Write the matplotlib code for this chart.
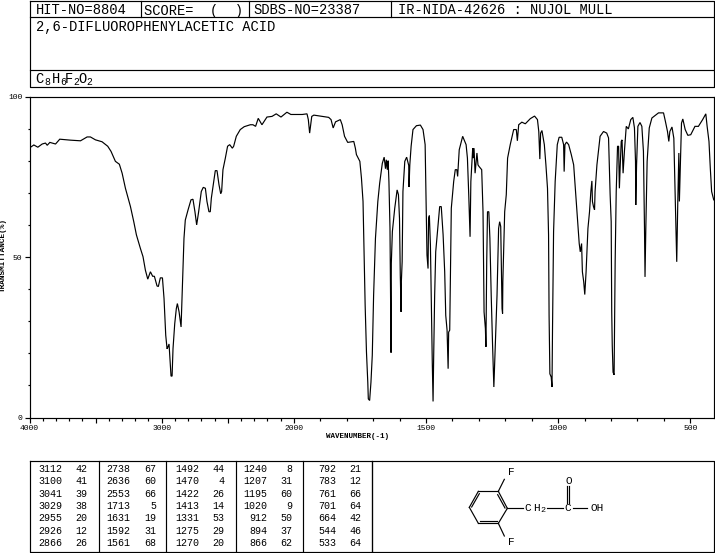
# IR spectrum page: 2,6-difluorophenylacetic acid
import numpy as np
import matplotlib
matplotlib.use('Agg')
import matplotlib.pyplot as plt
from matplotlib.ticker import FixedLocator, FixedFormatter

# Spectrum trace, wavenumber (cm-1) and transmittance (%)
wavenumber = [
    4000, 3992, 3967, 3937, 3904, 3879, 3866, 3846, 3803, 3771, 3690, 3614, 3564, 3539, 3501, 3451, 3408,
    3383, 3350, 3320, 3299, 3274, 3236, 3211, 3191, 3161, 3141, 3123, 3105, 3085, 3068, 3055, 3035,
    3025, 3010, 2994, 2982, 2969, 2959, 2952, 2944, 2937, 2929, 2921, 2914, 2901, 2889, 2881, 2868,
    2853, 2846, 2838, 2831, 2821, 2800, 2778, 2763, 2748, 2735, 2720, 2700, 2685, 2669, 2657, 2642,
    2632, 2624, 2606, 2594, 2581, 2566, 2553, 2546, 2536, 2518, 2501, 2485, 2465, 2455, 2435, 2405,
    2375, 2329, 2309, 2289, 2269, 2241, 2203, 2165, 2133, 2097, 2052, 2022, 1968, 1950, 1945, 1940,
    1932, 1924, 1899, 1868, 1859, 1851, 1842, 1824, 1817, 1808, 1796, 1773, 1767, 1763, 1750, 1744,
    1738, 1734, 1730, 1725, 1720, 1718, 1713, 1708, 1703, 1698, 1691, 1682, 1675, 1665, 1658, 1653,
    1650, 1646, 1643, 1640, 1636, 1633, 1632, 1631, 1627, 1618, 1609, 1604, 1600, 1597, 1594, 1593,
    1590, 1587, 1580, 1573, 1565, 1564, 1561, 1556, 1549, 1536, 1521, 1511, 1503, 1500, 1496, 1492,
    1490, 1487, 1483, 1480, 1476, 1473, 1471, 1467, 1463, 1454, 1448, 1442, 1435, 1429, 1425, 1420,
    1416, 1414, 1410, 1404, 1395, 1389, 1383, 1380, 1374, 1361, 1348, 1343, 1338, 1333, 1330, 1323,
    1321, 1318, 1314, 1307, 1303, 1299, 1289, 1284, 1280, 1275, 1273, 1270, 1267, 1262, 1258, 1253,
    1248, 1243, 1239, 1231, 1225, 1221, 1217, 1212, 1210, 1209, 1202, 1196, 1191, 1181, 1168, 1158,
    1154, 1149, 1137, 1124, 1105, 1089, 1078, 1073, 1069, 1066, 1061, 1052, 1046, 1040, 1036, 1034,
    1031, 1026, 1023, 1021, 1017, 1011, 1003, 996, 986, 979, 977, 974, 968, 960, 950, 941,
    933, 926, 920, 916, 911, 908, 903, 899, 894, 887, 881, 876, 872, 870, 866, 862,
    860, 853, 841, 828, 816, 809, 803, 799, 797, 795, 792, 788, 784, 780, 775, 771,
    768, 765, 761, 758, 754, 749, 742, 734, 725, 717, 711, 707, 706, 703, 698, 690,
    683, 677, 673, 671, 668, 663, 655, 645, 620, 601, 594, 586, 581, 577, 569, 562,
    557, 551, 547, 543, 541, 537, 533, 528, 519, 509, 498, 482, 469, 453, 441, 436,
    429, 424, 419, 411,
]
transmittance = [
    84.0, 84.2, 84.9, 84.2, 85.2, 85.5, 84.8, 85.7, 85.2, 86.7, 86.4, 86.2, 87.4, 87.4, 86.5, 85.9, 84.5,
    82.9, 79.8, 78.9, 76.1, 71.4, 65.7, 61.0, 56.9, 52.7, 50.1, 45.9, 43.1, 45.4, 44.0, 44.0, 41.0,
    40.8, 43.5, 43.5, 37.1, 25.6, 21.4, 22.0, 22.9, 18.3, 12.9, 12.9, 21.4, 29.2, 33.9, 35.5, 32.9,
    28.2, 37.1, 48.0, 55.8, 61.5, 64.7, 67.8, 68.0, 64.1, 60.0, 64.1, 70.4, 71.7, 71.4, 67.3, 64.1,
    64.1, 68.3, 73.5, 76.9, 76.9, 72.5, 69.7, 70.4, 77.2, 80.8, 84.5, 85.0, 83.9, 84.5, 87.6, 89.7,
    90.6, 91.2, 91.2, 90.7, 93.2, 91.2, 93.6, 93.8, 94.6, 93.6, 95.1, 94.4, 94.4, 94.6, 92.8, 88.6,
    93.8, 94.2, 93.9, 93.5, 92.8, 90.2, 92.1, 92.8, 91.2, 87.6, 85.7, 86.0, 83.9, 81.9, 79.8, 74.6,
    67.3, 50.6, 35.0, 20.4, 11.0, 5.8, 5.3, 11.0, 19.4, 38.0, 55.8, 67.3, 73.0, 79.2, 81.1, 77.5,
    80.3, 77.2, 80.0, 73.5, 59.0, 28.7, 20.2, 48.0, 57.9, 65.2, 70.9, 69.4, 62.0, 44.3, 32.9, 42.3,
    48.5, 70.4, 79.8, 81.1, 78.5, 71.8, 78.7, 84.5, 89.7, 90.9, 91.1, 89.7, 85.0, 69.4, 50.6, 46.4,
    62.0, 62.9, 53.7, 38.0, 17.3, 5.0, 17.3, 38.0, 51.6, 60.0, 65.7, 65.7, 56.9, 45.4, 31.8, 27.2,
    15.2, 26.6, 27.2, 65.2, 73.5, 77.2, 77.2, 75.1, 83.4, 87.6, 85.0, 80.8, 69.4, 56.3, 73.5, 83.9,
    80.8, 83.9, 76.1, 82.4, 78.7, 78.2, 77.2, 64.1, 32.9, 27.7, 22.0, 48.5, 64.1, 64.1, 55.8, 38.1,
    23.0, 9.5, 19.3, 38.1, 58.9, 61.0, 59.5, 33.9, 32.4, 42.3, 64.1, 69.4, 80.8, 85.0, 89.7, 89.7,
    86.2, 91.2, 92.0, 91.5, 93.1, 93.9, 92.8, 89.1, 80.5, 88.6, 89.4, 85.0, 78.7, 71.4, 56.9, 31.8,
    13.6, 12.6, 9.5, 27.7, 57.9, 73.5, 85.0, 87.3, 87.3, 85.0, 76.6, 85.0, 85.8, 85.0, 81.9, 78.7,
    69.4, 61.0, 54.2, 51.6, 54.2, 45.4, 42.3, 38.3, 45.4, 58.9, 64.1, 70.4, 73.7, 67.3, 65.7, 64.7,
    70.4, 78.7, 87.6, 89.1, 88.6, 87.1, 69.4, 61.0, 32.9, 22.5, 14.1, 13.3, 48.5, 70.4, 84.5, 84.5,
    71.4, 78.2, 86.0, 86.5, 76.1, 82.9, 90.7, 89.9, 92.8, 93.5, 90.2, 79.8, 66.2, 78.7, 90.7, 91.9,
    90.7, 82.9, 58.9, 43.8, 58.9, 79.8, 90.2, 93.3, 94.9, 94.9, 92.3, 89.1, 86.0, 89.1, 90.5, 87.0,
    69.4, 48.5, 67.3, 82.4, 67.3, 79.8, 91.7, 93.0, 89.7, 87.9, 88.1, 90.7, 90.7, 92.8, 94.6, 90.7,
    86.0, 77.7, 70.4, 67.8,
]

# Axis ticks
x_major = [4000, 3500, 3000, 2500, 2000, 1500, 1000, 500]
x_major_labels = ['4000', '', '3000', '', '2000', '1500', '1000', '500']
x_minor = [w for w in range(500, 4000, 100) if w % 500 != 0]
y_major = [0, 50, 100]
y_minor = [10, 20, 30, 40, 60, 70, 80, 90]

# Header strings
hit_text = 'HIT-NO=8804'
score_text = 'SCORE=  (  )'
sdbs_text = 'SDBS-NO=23387'
ir_text = 'IR-NIDA-42626 : NUJOL MULL'
name_text = '2,6-DIFLUOROPHENYLACETIC ACID'

# Peak table, one list per column block
peak_columns = [
    [3112, 3100, 3041, 3029, 2955, 2926, 2866],
    [2738, 2636, 2553, 1713, 1631, 1592, 1561],
    [1492, 1470, 1422, 1413, 1331, 1275, 1270],
    [1240, 1207, 1195, 1020, 912, 894, 866],
    [792, 783, 761, 701, 664, 544, 533],
]
peak_values = [
    [42, 41, 39, 38, 20, 12, 26],
    [67, 60, 66, 5, 19, 31, 68],
    [44, 4, 26, 14, 53, 29, 20],
    [8, 31, 60, 9, 50, 37, 62],
    [21, 12, 66, 64, 42, 46, 64],
]

MONO = 'Liberation Mono'
LW = 0.85

fig = plt.figure(figsize=(7.15, 5.53), dpi=100)

# Page layout is drawn in pixel coordinates on a full size axes
page = fig.add_axes([0, 0, 1, 1])
page.set_xlim(0, 715)
page.set_ylim(553, 0)
page.axis('off')


def box(x0, y0, x1, y1):
    page.plot([x0, x1, x1, x0, x0], [y0, y0, y1, y1, y0], color='black', lw=LW)


def line(x0, y0, x1, y1):
    page.plot([x0, x1], [y0, y1], color='black', lw=LW)


def text(x, y, s, size=9.95, ha='left'):
    page.text(x, y, s, fontsize=size, family=MONO, ha=ha, va='center', color='black')


# Header block
box(29.5, 0.5, 714, 87)
line(29.5, 17, 714, 17)
line(29.5, 69.5, 714, 69.5)
line(140.5, 0.5, 140.5, 17)
line(249, 0.5, 249, 17)
line(391, 0.5, 391, 17)
text(35.5, 9.5, hit_text)
text(144, 10.5, score_text)
text(253, 9.5, sdbs_text)
text(398, 9.5, ir_text)
text(35.5, 27, name_text)

# Formula with subscripts
for x, s in [(35.5, 'C'), (52, 'H'), (65, 'F'), (78, 'O')]:
    text(x, 79, s)
for x, s in [(44.5, '8'), (60, '6'), (73, '2'), (86, '2')]:
    text(x, 82, s, size=7)

# Spectrum, 2000 cm-1 and below is stretched by two
spec = fig.add_axes([29.5 / 715, (553 - 417.5) / 553, (714 - 29.5) / 715, 321 / 553])


def forward(w):
    w = np.asarray(w, dtype=float)
    return np.where(w >= 2000, w, 2000 - (2000 - w) * 2)


def inverse(p):
    p = np.asarray(p, dtype=float)
    return np.where(p >= 2000, p, 2000 - (2000 - p) / 2)


spec.set_xscale('function', functions=(forward, inverse))
spec.plot(wavenumber, transmittance, color='black', lw=0.85, solid_joinstyle='miter')
spec.set_xlim(4000, 410)
spec.set_ylim(0, 100)

spec.xaxis.set_major_locator(FixedLocator(x_major))
spec.xaxis.set_major_formatter(FixedFormatter(x_major_labels))
spec.xaxis.set_minor_locator(FixedLocator(x_minor))
spec.xaxis.set_minor_formatter(FixedFormatter([''] * len(x_minor)))
spec.yaxis.set_major_locator(FixedLocator(y_major))
spec.yaxis.set_major_formatter(FixedFormatter([str(v) for v in y_major]))
spec.yaxis.set_minor_locator(FixedLocator(y_minor))
spec.tick_params(which='major', length=3.6, width=LW, pad=1.5, labelsize=5.8)
spec.tick_params(which='minor', length=1.8, width=LW)
for lab in spec.get_xticklabels() + spec.get_yticklabels():
    lab.set_family(MONO)
for s in spec.spines.values():
    s.set_linewidth(LW)

page.text(358, 437, 'WAVENUMBER(-1)', fontsize=5.4, family=MONO, ha='center', va='center',
          fontweight='bold')
page.text(3, 255, 'TRANSMITTANCE(%)', fontsize=5.6, family=MONO, ha='center', va='center',
          rotation=90, fontweight='bold')

# Peak table
box(29.5, 460.5, 372, 552)
for x in [98.7, 166.3, 235.7, 303.3]:
    line(x, 460.5, x, 552)
row_y = [469.3, 481.5, 493.8, 506, 518.3, 530.7, 543.2]
wave_right = [62.5, 130, 199.5, 267.7, 336.5]
value_right = [87, 156.5, 224.5, 292.7, 361.7]
for c in range(len(peak_columns)):
    for r in range(len(row_y)):
        text(wave_right[c], row_y[r], str(peak_columns[c][r]), size=7.2, ha='right')
        text(value_right[c], row_y[r], str(peak_values[c][r]), size=7.2, ha='right')

# Structure box
box(372, 460.5, 714, 552)


def zx(v):
    return 370 + v / 3


def zy(v):
    return 450 + v / 3


bonds = [
    (385, 124, 325, 124), (325, 124, 298, 172), (298, 172, 325, 220), (325, 220, 385, 220),
    (385, 220, 412, 175), (412, 175, 385, 124), (328, 131, 305, 171), (330, 214, 380, 214),
    (383, 134, 405, 174), (385, 124, 403, 88), (385, 220, 403, 258), (412, 175, 458, 175),
    (532, 175, 578, 175), (590, 107, 590, 158), (597, 107, 597, 158), (610, 175, 650, 175),
]
for b in bonds:
    line(zx(b[0]), zy(b[1]), zx(b[2]), zy(b[3]))
for vx, vy, s, size in [
    (425, 66, 'F', 8), (425, 277, 'F', 8), (473, 175, 'C', 8), (498, 175, 'H', 8),
    (520, 183, '2', 6), (594, 174, 'C', 8), (595, 94, 'O', 8), (680, 174, 'OH', 8),
]:
    text(zx(vx), zy(vy), s, size=size, ha='center')

fig.savefig('out.png', dpi=100)
